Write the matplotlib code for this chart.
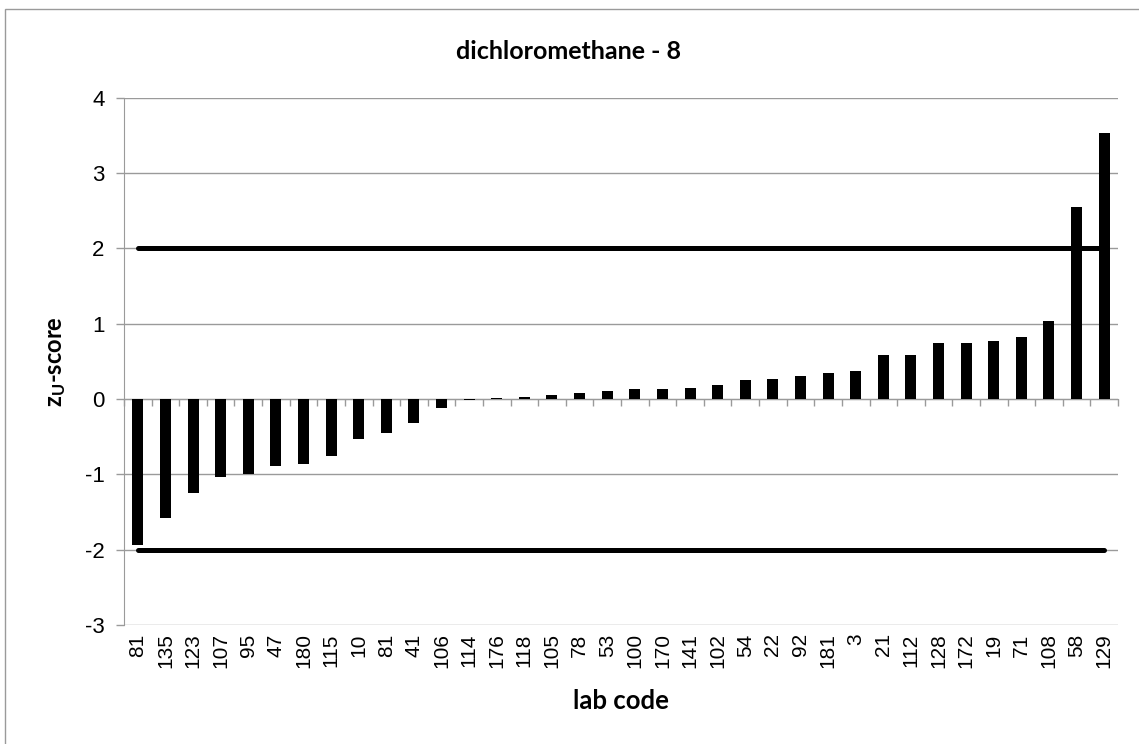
import matplotlib.pyplot as plt
import numpy as np
from matplotlib.patches import Rectangle

## lab codes and z-scores, sorted as in the chart
lab_codes = ["81", "135", "123", "107", "95", "47", "180", "115", "10", "81",
             "41", "106", "114", "176", "118", "105", "78", "53", "100", "170",
             "141", "102", "54", "22", "92", "181", "3", "21", "112", "128",
             "172", "19", "71", "108", "58", "129"]
z_scores = [-1.94, -1.58, -1.25, -1.03, -1.00, -0.89, -0.86, -0.75, -0.53, -0.45,
            -0.32, -0.12, -0.01, 0.01, 0.03, 0.05, 0.08, 0.11, 0.13, 0.13,
            0.15, 0.18, 0.25, 0.27, 0.30, 0.35, 0.37, 0.58, 0.58, 0.74,
            0.74, 0.77, 0.82, 1.03, 2.55, 3.53]
limits = [2, -2]
y_ticks = [-3, -2, -1, 0, 1, 2, 3, 4]

plt.rcParams['font.family'] = 'Liberation Sans'
plt.rcParams['axes.unicode_minus'] = False
plt.rcParams['mathtext.fontset'] = 'custom'
plt.rcParams['mathtext.rm'] = 'Lato:bold'
plt.rcParams['mathtext.default'] = 'rm'

W, H = 1139, 744
fig = plt.figure(figsize=(W / 100, H / 100), dpi=100)
ax = fig.add_axes([124 / W, 1 - 625 / H, (1118 - 124) / W, (625 - 97.7) / H])

grey = "#9a9a9a"
x = np.arange(len(lab_codes))

# limit lines at +2 / -2
for lim in limits:
    ax.plot(x, np.full(len(x), lim), color="black", lw=3.6,
            solid_capstyle="round", zorder=2)

# bars
ax.bar(x, z_scores, width=0.4, color="black", zorder=3)

ax.set_xlim(-0.5, len(x) - 0.5)
ax.set_ylim(-3, 4)
ax.set_yticks(y_ticks)
ax.yaxis.grid(True, color=grey, lw=1)
ax.set_axisbelow(True)

# tick labels at the bottom, no tick marks there
ax.set_xticks(x)
ax.set_xticklabels(lab_codes, rotation=90, fontsize=15)
ax.tick_params(axis="x", length=0, pad=6)
ax.tick_params(axis="y", direction="out", length=6, width=1, color=grey,
               labelsize=16, pad=8)

for s in ["top", "right", "bottom"]:
    ax.spines[s].set_visible(False)
ax.spines["left"].set_color(grey)

# category axis crossing at zero, ticks between categories
zero_ax = ax.secondary_xaxis(3 / 7)
zero_ax.set_xticks(np.arange(len(x) + 1) - 0.5)
zero_ax.set_xticklabels([])
zero_ax.tick_params(direction="out", length=5, width=1, color=grey)
zero_ax.spines["bottom"].set_color(grey)

ax.set_title("dichloromethane - 8", fontsize=18, fontweight="bold",
             family="Lato", x=(569 - 124) / (1118 - 124), y=1.0, pad=28)
ax.set_ylabel("z$_{U}$-score", fontsize=17, fontweight="bold", family="Lato",
              labelpad=12)
ax.set_xlabel("lab code", fontsize=18.5, fontweight="bold", family="Lato",
              labelpad=15)

# chart frame
fig.patches.append(Rectangle((4.5 / W, -0.05), 1.2, 1 - 8.5 / H + 0.05,
                             transform=fig.transFigure, fill=False,
                             edgecolor=grey, lw=1))

fig.savefig("out.png", dpi=100)
